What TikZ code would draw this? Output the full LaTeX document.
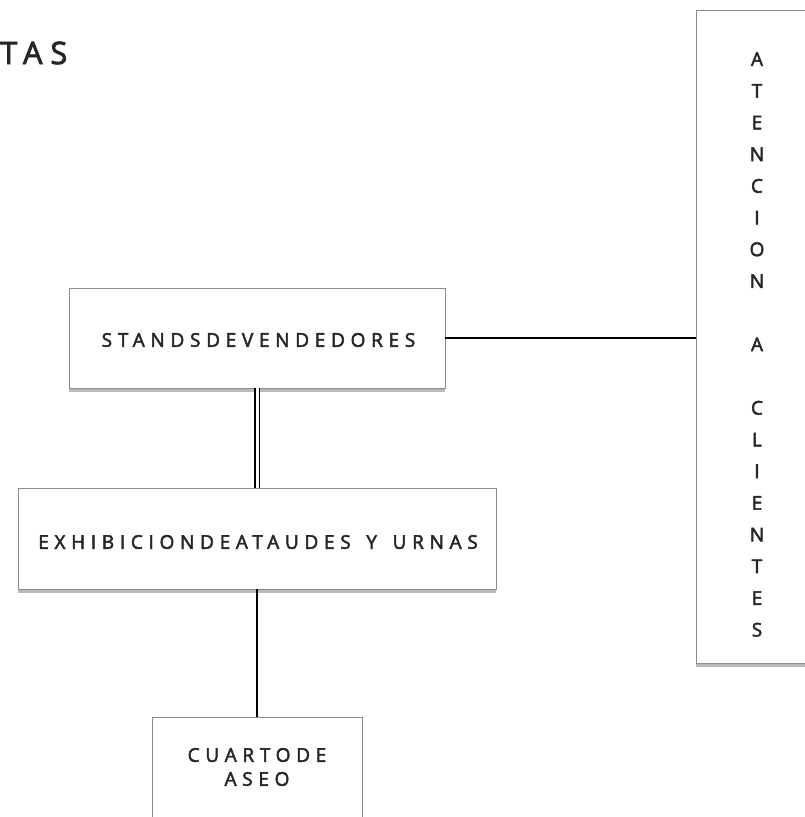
\documentclass[tikz,border=0pt]{standalone}
\usepackage{fontspec}
\setmainfont{Open Sans}[LetterSpace=30, FakeBold=2.5]
\usetikzlibrary{shadows}
\newcommand{\wsp}{\hspace*{5pt} }
\begin{document}
\begin{tikzpicture}[x=1pt,y=-1pt,
  box/.style={draw=black!45, line width=0.8pt, fill=white, inner sep=0pt,
    drop shadow={shadow xshift=-0.5pt, shadow yshift=-4pt, opacity=0.45, fill=black!60}},
  lbl/.style={font=\fontsize{19}{21}\selectfont, text=black!85, inner sep=0pt},
  link/.style={draw=black, line width=1.5pt}]
\useasboundingbox (0,0) rectangle (804,817);
\node[anchor=west, inner sep=0pt, font=\fontsize{31}{33}\selectfont\addfontfeature{LetterSpace=25}, text=black!85] (tas) at (0,53) {TAS};
\node[box, minimum width=376pt, minimum height=100pt] (stands) at (257,338) {};
\node[lbl] (standst) at (258.5,340) {STANDSDEVENDEDORES};
\node[box, minimum width=478pt, minimum height=101pt] (exhib) at (257,538.5) {};
\node[lbl] (exhibt) at (258,542) {EXHIBICIONDEATAUDES\wsp Y\wsp URNAS};
\node[box, minimum width=210pt, minimum height=140pt] (cuarto) at (257,787) {};
\node[lbl, align=center, font=\fontsize{19}{24}\selectfont] (cuartot) at (257,767) {CUARTODE\\ASEO};
\node[box, minimum width=140pt, minimum height=653pt] (aten) at (766,336.5) {};
\node[lbl, align=center, font=\fontsize{19}{31.7}\selectfont\addfontfeature{LetterSpace=0}] (atent) at (757,344.5)
  {A\\T\\E\\N\\C\\I\\O\\N\\[31.7pt]A\\[31.7pt]C\\L\\I\\E\\N\\T\\E\\S};
\draw[link] (stands.east) -- (stands.east -| aten.west);
\draw[draw=black, line width=1.2pt, double=white, double distance=3pt] (stands.south) -- (exhib.north);
\draw[link] (exhib.south) -- (cuarto.north);
\end{tikzpicture}
\end{document}
